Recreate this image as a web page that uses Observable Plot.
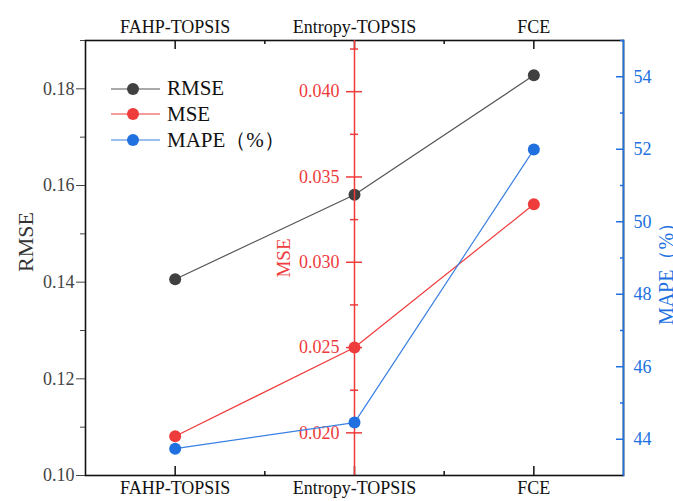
<!DOCTYPE html>
<html><head><meta charset="utf-8">
<script src="https://cdn.jsdelivr.net/npm/d3@7"></script>
<script src="https://cdn.jsdelivr.net/npm/@observablehq/plot@0.6"></script>
<style>
body{margin:0;background:#fff}
#chart{position:relative;width:673px;height:501px;overflow:hidden}
#chart svg.layer{position:absolute;left:0;top:0}
#legend{position:absolute;left:111px;top:76px;font-family:"Liberation Serif",serif;font-size:21px;color:#111}
#legend .row{display:flex;align-items:center;height:25.5px}
#legend svg{margin-right:7px}
</style></head><body><div id="chart"><div id="legend"></div></div>
<script>
const methods = ["FAHP-TOPSIS", "Entropy-TOPSIS", "FCE"];
const rmse = [0.1406, 0.1581, 0.1828];
const mse = [0.0198, 0.0250, 0.0334];
const mape = [43.74, 44.46, 51.99];
const rmseTicks = [0.10, 0.12, 0.14, 0.16, 0.18];
const rmseMinor = [0.11, 0.13, 0.15, 0.17, 0.19];
const mseTicks = [0.020, 0.025, 0.030, 0.035, 0.040];
const mseMinor = [0.0225, 0.0275, 0.0325, 0.0375, 0.0425];
const mapeTicks = [44, 46, 48, 50, 52, 54];
const mapeMinor = [45, 47, 49, 51, 53, 55];
const seriesNames = ["RMSE", "MSE", "MAPE（%）"];

const C = {rmseDot: "#404040", rmseLine: "#555555", red: "#ee3b3b", blue: "#2070e0", blueLine: "#3a80e3"};
const data = methods.map((m, i) => ({i, m, rmse: rmse[i], mse: mse[i], mape: mape[i]}));
const cat = methods.map((_, i) => i);
const catMinor = cat.slice(1).map(i => i - 0.5);
const midIndex = methods.indexOf("Entropy-TOPSIS");

const W = 673, H = 501, ML = 85, MR = 50, MT = 40, MB = 26;
const FH = H - MT - MB;
const base = {
  width: W, height: H, marginLeft: ML, marginRight: MR, marginTop: MT, marginBottom: MB,
  x: {domain: [-0.5, methods.length - 0.5], axis: null},
  style: {fontFamily: "Liberation Serif, serif", fontSize: "18px", background: "none", overflow: "visible"}
};
const root = document.getElementById("chart");
function add(p){ p.classList.add("layer"); root.appendChild(p); }

// RMSE layer (base)
add(Plot.plot({
  ...base,
  x: {domain: [-0.5, methods.length - 0.5]},
  y: {domain: [0.10, 0.19]},
  marks: [
    Plot.frame({stroke: "#111", strokeWidth: 1.6}),
    Plot.axisY({anchor: "left", ticks: rmseTicks, tickFormat: d3.format(".2f"), tickSize: 9, tickPadding: 2, color: "#444", label: null, fontSize: 18}),
    Plot.axisY({anchor: "left", ticks: rmseMinor, tickFormat: () => "", tickSize: 5, color: "#444", label: null}),
    Plot.axisX({anchor: "bottom", ticks: cat, tickFormat: i => methods[i], tickSize: 0, tickPadding: 6, color: "#111", label: null, fontSize: 18}),
    Plot.axisX({anchor: "top", ticks: cat, tickFormat: i => methods[i], tickSize: 0, tickPadding: 8, color: "#111", label: null, fontSize: 18}),
    Plot.tickX(cat, {x: d => d, insetTop: FH - 9, stroke: "#111", strokeWidth: 1.5}),
    Plot.tickX(catMinor, {x: d => d, insetTop: FH - 4, stroke: "#111", strokeWidth: 1.5}),
    Plot.tickX(cat, {x: d => d, insetBottom: FH - 9, stroke: "#111", strokeWidth: 1.5}),
    Plot.tickX(catMinor, {x: d => d, insetBottom: FH - 4, stroke: "#111", strokeWidth: 1.5}),
    Plot.text([seriesNames[0]], {frameAnchor: "left", textAnchor: "middle", dx: -60, dy: -16, rotate: -90, fontSize: 22, fill: "#333"}),
    Plot.line(data, {x: "i", y: "rmse", stroke: C.rmseLine, strokeWidth: 1.2}),
    Plot.dot(data, {x: "i", y: "rmse", r: 6, fill: C.rmseDot})
  ]
}));

// MSE layer
add(Plot.plot({
  ...base,
  y: {domain: [0.0175, 0.043]},
  marks: [
    Plot.ruleX([midIndex], {stroke: C.red, strokeWidth: 1.5}),
    Plot.axisY({anchor: "left", ticks: mseTicks, tickFormat: d3.format(".3f"), tickSize: 16, dx: 277, tickPadding: 7, color: C.red, label: null, fontSize: 18, strokeWidth: 1.5}),
    Plot.axisY({anchor: "left", ticks: mseMinor, tickFormat: () => "", tickSize: 8, dx: 273, color: C.red, label: null, strokeWidth: 1.5}),
    Plot.text([seriesNames[1]], {frameAnchor: "left", textAnchor: "middle", dx: 198, dy: 0, rotate: -90, fontSize: 19, fill: C.red}),
    Plot.line(data, {x: "i", y: "mse", stroke: C.red, strokeWidth: 1.2}),
    Plot.dot(data, {x: "i", y: "mse", r: 6, fill: C.red})
  ]
}));

// MAPE layer
add(Plot.plot({
  ...base,
  y: {domain: [43, 55]},
  marks: [
    Plot.frame({anchor: "right", stroke: C.blue, strokeWidth: 1.6}),
    Plot.axisY({anchor: "right", ticks: mapeTicks, tickSize: 8, dx: -8, tickPadding: 10, color: C.blue, label: null, fontSize: 18, strokeWidth: 1.5}),
    Plot.axisY({anchor: "right", ticks: mapeMinor, tickFormat: () => "", tickSize: 4, dx: -4, color: C.blue, label: null, strokeWidth: 1.5}),
    Plot.text([seriesNames[2]], {frameAnchor: "right", textAnchor: "middle", dx: 43, dy: 11, rotate: -90, fontSize: 20, fill: C.blue}),
    Plot.line(data, {x: "i", y: "mape", stroke: C.blueLine, strokeWidth: 1.2}),
    Plot.dot(data, {x: "i", y: "mape", r: 6, fill: C.blue})
  ]
}));

// legend (bring to front)
const legend = document.getElementById("legend");
root.appendChild(legend);
const legendColors = [[C.rmseLine, C.rmseDot], [C.red, C.red], [C.blueLine, C.blue]];
seriesNames.forEach((name, k) => {
  const row = document.createElement("div");
  row.className = "row";
  row.innerHTML = `<svg width="49" height="16"><line x1="0" x2="49" y1="8" y2="8" stroke="${legendColors[k][0]}" stroke-width="1.2"/><circle cx="22" cy="8" r="6" fill="${legendColors[k][1]}"/></svg><span>${name}</span>`;
  legend.appendChild(row);
});
</script></body></html>
